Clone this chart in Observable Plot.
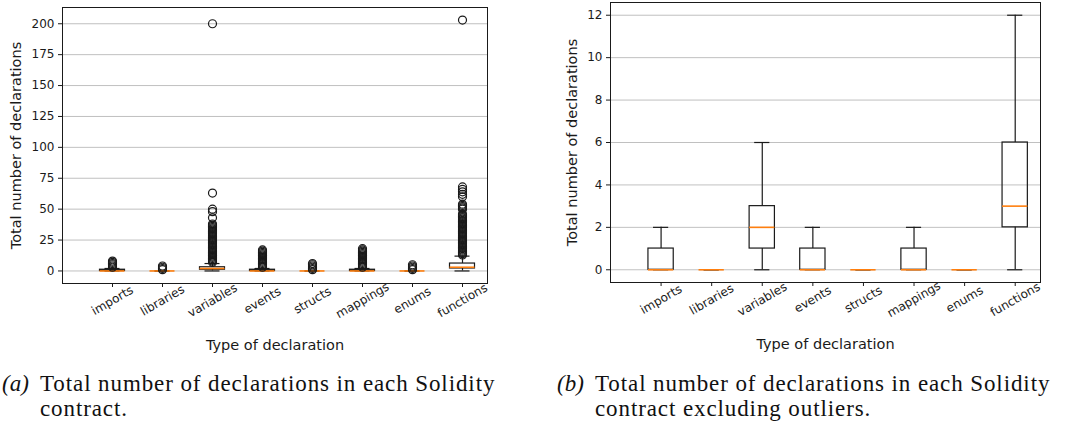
<!DOCTYPE html>
<html>
<head>
<meta charset="utf-8">
<script src="https://cdn.jsdelivr.net/npm/d3@7"></script>
<script src="https://cdn.jsdelivr.net/npm/@observablehq/plot@0.6"></script>
<style>
  html, body { margin: 0; padding: 0; background: #fff; }
  body { width: 1065px; height: 430px; position: relative; overflow: hidden; }
  .panel { position: absolute; top: 0; }
  .caption { position: absolute; top: 371px; font-family: "Liberation Serif", serif; font-size: 23px; line-height: 25px; color: #111; letter-spacing: 0.9px; }
  .caption .tag { position: absolute; left: 0; top: 0; font-style: italic; letter-spacing: 0; }
  .caption .body { margin-left: 38px; }
</style>
</head>
<body>
<div id="panel-a" class="panel" style="left:0px"></div>
<div id="panel-b" class="panel" style="left:540px"></div>
<div class="caption" style="left:2px; width:525px"><span class="tag">(a)</span><div class="body">Total number of declarations in each Solidity contract.</div></div>
<div class="caption" style="left:557px; width:508px"><span class="tag">(b)</span><div class="body">Total number of declarations in each Solidity contract excluding outliers.</div></div>
<script>
// Declaration types, in plotting order
const categories = ["imports", "libraries", "variables", "events", "structs", "mappings", "enums", "functions"];

// Box statistics per declaration type
const q1 = [0, 0, 1, 0, 0, 0, 0, 2];
const median = [0, 0, 2, 0, 0, 0, 0, 3];
const q3 = [1, 0, 3, 1, 0, 1, 0, 6];
const whiskerLow = [0, 0, 0, 0, 0, 0, 0, 0];
const whiskerHigh = [2, 0, 6, 2, 0, 2, 0, 12];

// Outlying contracts per declaration type
const fliersImports = [3, 4, 5, 6, 7, 8];
const fliersLibraries = [1, 2, 3, 4];
const fliersVariables = [7, 8, 9, 10, 11, 12, 13, 14, 15, 16, 17, 18, 19, 20, 21, 22, 23, 24, 25, 26, 27, 28, 29, 30, 31, 32, 33, 34, 35, 36, 37, 38, 43, 48, 50, 63, 200];
const fliersEvents = [3, 4, 5, 6, 7, 8, 9, 10, 11, 12, 13, 14, 15, 16, 17];
const fliersStructs = [1, 2, 3, 4, 5, 6];
const fliersMappings = [3, 4, 5, 6, 7, 8, 9, 10, 11, 12, 13, 14, 15, 16, 17, 18];
const fliersEnums = [1, 2, 3, 4, 5];
const fliersFunctions = [13, 14, 15, 16, 17, 18, 19, 20, 21, 22, 23, 24, 25, 26, 27, 28, 29, 30, 31, 32, 33, 34, 35, 36, 37, 38, 39, 40, 41, 42, 43, 44, 45, 46, 50, 51, 52, 53, 54, 60, 62, 64, 66, 68, 203];

// Axis ticks
const yTicksAll = [0, 25, 50, 75, 100, 125, 150, 175, 200];
const yTicksInner = [0, 2, 4, 6, 8, 10, 12];

const fliers = [fliersImports, fliersLibraries, fliersVariables, fliersEvents, fliersStructs, fliersMappings, fliersEnums, fliersFunctions];
const positions = categories.map((_, i) => i + 1);

const boxes = categories.map((name, i) => ({
  name, pos: i + 1,
  q1: q1[i], med: median[i], q3: q3[i], lo: whiskerLow[i], hi: whiskerHigh[i]
}));
const flierRows = fliers.flatMap((vals, i) => vals.map(v => ({pos: i + 1, v})));

const BOX_HALF = 0.25;
const CAP_HALF = 0.15;
const INK = "#1a1a1a";

function boxPanel({width, height, margin, yDomain, yTicks, withFliers, yLabelDx}) {
  const marks = [
    Plot.gridY(yTicks, {stroke: "#b0b0b0", strokeOpacity: 0.8, strokeWidth: 1}),
    Plot.axisY(yTicks, {tickSize: 4, tickPadding: 4, fontSize: 12, label: null, stroke: INK, color: INK}),
    Plot.axisX(positions, {
      tickSize: 4, label: null, stroke: INK, fontSize: 12,
      tickFormat: i => categories[i - 1],
      tickRotate: -30, textAnchor: "middle", lineAnchor: "middle", tickPadding: 13
    }),
    Plot.ruleX(boxes, {x: "pos", y1: "q3", y2: "hi", stroke: INK, strokeWidth: 1.2}),
    Plot.ruleX(boxes, {x: "pos", y1: "lo", y2: "q1", stroke: INK, strokeWidth: 1.2}),
    Plot.ruleY(boxes, {y: "hi", x1: d => d.pos - CAP_HALF, x2: d => d.pos + CAP_HALF, stroke: INK, strokeWidth: 1.2}),
    Plot.ruleY(boxes, {y: "lo", x1: d => d.pos - CAP_HALF, x2: d => d.pos + CAP_HALF, stroke: INK, strokeWidth: 1.2}),
    Plot.rect(boxes, {x1: d => d.pos - BOX_HALF, x2: d => d.pos + BOX_HALF, y1: "q1", y2: "q3", fill: "none", stroke: INK, strokeWidth: 1.2}),
    Plot.ruleY(boxes, {y: "med", x1: d => d.pos - BOX_HALF, x2: d => d.pos + BOX_HALF, stroke: "#ff7f0e", strokeWidth: 1.6}),
    withFliers ? Plot.dot(flierRows, {x: "pos", y: "v", r: 4, stroke: INK, fill: "none", strokeWidth: 1.2}) : null,
    Plot.frame({stroke: INK, strokeWidth: 1}),
    Plot.text(["Total number of declarations"], {frameAnchor: "left", textAnchor: "middle", lineAnchor: "middle", rotate: -90, dx: yLabelDx, fontSize: 14.5, fill: INK}),
    Plot.text(["Type of declaration"], {frameAnchor: "bottom", dy: 62, lineAnchor: "middle", fontSize: 14.5, fill: INK})
  ];
  return Plot.plot({
    width, height,
    marginLeft: margin[0], marginRight: margin[1], marginTop: margin[2], marginBottom: margin[3],
    style: {fontFamily: "'DejaVu Sans', sans-serif", fontSize: "12px", color: INK, background: "#fff", overflow: "visible"},
    x: {type: "linear", domain: [0, 8.5]},
    y: {domain: yDomain},
    marks
  });
}

document.getElementById("panel-a").append(boxPanel({
  width: 535, height: 360, margin: [62, 48, 7, 77],
  yDomain: [-10.15, 213.15], yTicks: yTicksAll, withFliers: true, yLabelDx: -46
}));
document.getElementById("panel-b").append(boxPanel({
  width: 525, height: 360, margin: [70, 25, 2, 78],
  yDomain: [-0.6, 12.6], yTicks: yTicksInner, withFliers: false, yLabelDx: -38
}));
</script>
</body>
</html>
